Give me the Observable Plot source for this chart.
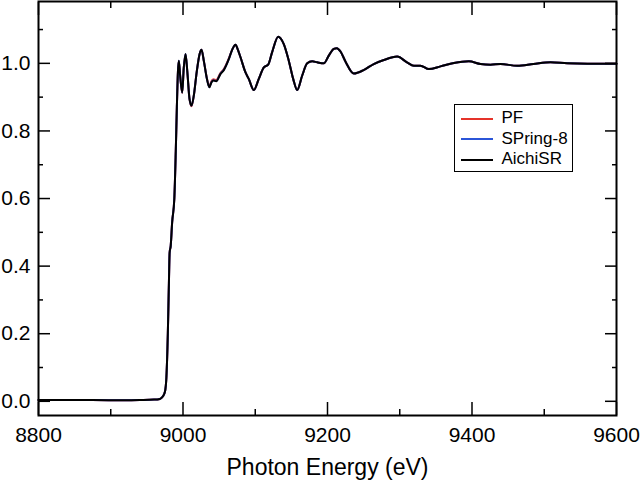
<!DOCTYPE html>
<html><head><meta charset="utf-8">
<script src="https://cdn.jsdelivr.net/npm/d3@7"></script>
<script src="https://cdn.jsdelivr.net/npm/@observablehq/plot@0.6"></script>
<style>
body{margin:0;background:#fff;font-family:"Liberation Sans",Arial,sans-serif;}
#wrap{position:relative;width:640px;height:494px;}
#legend{position:absolute;left:454px;top:104px;width:119px;height:68px;border:1.5px solid #000;background:#fff;box-sizing:border-box;}
#legend .sw{position:absolute;left:6px;width:32px;height:0;border-top:2px solid #000;}
#legend .lb{position:absolute;left:46.5px;font-size:17px;line-height:20px;color:#000;white-space:nowrap;}
</style>
</head><body>
<div id="wrap"></div>
<script>
const energy = [8800, 8850, 8900, 8940, 8960, 8968, 8972, 8975, 8977, 8979, 8980.5, 8981.5, 8983, 8985, 8988, 8990, 8991.5, 8993, 8994.2, 8996, 8998.9, 9001, 9003.5, 9006, 9009, 9011.8, 9015, 9019, 9023, 9025.6, 9029, 9033, 9036.5, 9039, 9042, 9046, 9052, 9056.5, 9063.5, 9068, 9072.7, 9076, 9079.6, 9086.5, 9091, 9098, 9104.9, 9111.9, 9117.9, 9123.4, 9131.7, 9139.5, 9146.4, 9152.5, 9158, 9165, 9171.9, 9178.8, 9185.7, 9194.9, 9201.8, 9208.7, 9213, 9218, 9225, 9236.4, 9250, 9264, 9278, 9296.5, 9310, 9319.5, 9328.7, 9340.3, 9356.4, 9375, 9395.6, 9411.8, 9425.6, 9439.4, 9462.6, 9485, 9508.7, 9531.8, 9560, 9600];

const pf = [0.004, 0.004, 0.003, 0.004, 0.005, 0.007, 0.014, 0.028, 0.07, 0.2, 0.35, 0.44, 0.46, 0.53, 0.6, 0.74, 0.87, 0.975, 1.006, 0.965, 0.912, 0.985, 1.026, 0.975, 0.895, 0.873, 0.905, 0.975, 1.028, 1.04, 1.005, 0.957, 0.931, 0.946, 0.953, 0.951, 0.972, 0.983, 1.015, 1.04, 1.055, 1.04, 1.018, 0.973, 0.954, 0.921, 0.954, 0.988, 0.996, 1.033, 1.079, 1.057, 1.008, 0.954, 0.921, 0.964, 1.0, 1.006, 1.003, 1.0, 1.023, 1.043, 1.045, 1.035, 1.005, 0.97, 0.98, 0.998, 1.01, 1.02, 1.003, 0.993, 0.993, 0.983, 0.991, 1.001, 1.006, 0.998, 0.996, 0.998, 0.993, 0.998, 1.003, 1.0, 0.999, 0.999];

const spring8 = [0.004, 0.004, 0.003, 0.004, 0.005, 0.007, 0.014, 0.028, 0.07, 0.2, 0.35, 0.44, 0.46, 0.53, 0.6, 0.74, 0.87, 0.975, 1.008, 0.965, 0.914, 0.985, 1.028, 0.975, 0.895, 0.875, 0.905, 0.975, 1.028, 1.04, 1.005, 0.955, 0.929, 0.943, 0.95, 0.948, 0.97, 0.981, 1.013, 1.04, 1.055, 1.04, 1.018, 0.973, 0.954, 0.921, 0.954, 0.988, 0.996, 1.033, 1.079, 1.057, 1.008, 0.954, 0.921, 0.964, 1.0, 1.006, 1.003, 1.0, 1.023, 1.043, 1.045, 1.035, 1.005, 0.97, 0.98, 0.998, 1.01, 1.02, 1.003, 0.993, 0.993, 0.983, 0.991, 1.001, 1.006, 0.998, 0.996, 0.998, 0.993, 0.998, 1.003, 1.0, 0.999, 0.999];

const aichi = [0.004, 0.004, 0.003, 0.004, 0.005, 0.007, 0.014, 0.028, 0.07, 0.2, 0.35, 0.44, 0.46, 0.53, 0.6, 0.74, 0.87, 0.975, 1.008, 0.965, 0.914, 0.985, 1.028, 0.975, 0.895, 0.875, 0.905, 0.975, 1.028, 1.04, 1.005, 0.955, 0.929, 0.942, 0.949, 0.947, 0.969, 0.98, 1.013, 1.04, 1.055, 1.04, 1.018, 0.973, 0.954, 0.921, 0.954, 0.988, 0.996, 1.033, 1.079, 1.057, 1.008, 0.954, 0.921, 0.964, 1.0, 1.006, 1.003, 1.0, 1.023, 1.043, 1.045, 1.035, 1.005, 0.97, 0.98, 0.998, 1.01, 1.02, 1.003, 0.993, 0.993, 0.983, 0.991, 1.001, 1.006, 0.998, 0.996, 0.998, 0.993, 0.998, 1.003, 1.0, 0.999, 0.999];

const seriesNames = ["PF", "SPring-8", "AichiSR"];
const seriesColors = ["#e5332a", "#2b55d8", "#000000"];
const xMajor = [8800, 9000, 9200, 9400, 9600];
const xMinor = [8900, 9100, 9300, 9500];
const yMajor = [0, 0.2, 0.4, 0.6, 0.8, 1.0];
const yMinor = [0.1, 0.3, 0.5, 0.7, 0.9, 1.1];
const xTitle = "Photon Energy (eV)";

const rows = [];
[pf, spring8, aichi].forEach((vals, i) =>
  energy.forEach((e, j) => rows.push({series: seriesNames[i], energy: e, value: vals[j]})));

const chart = Plot.plot({
  width: 640, height: 494,
  marginLeft: 38, marginRight: 24, marginTop: 1, marginBottom: 79,
  style: {fontFamily: "'Liberation Sans', Arial, sans-serif", fontSize: "21px", background: "#fff", color: "#000"},
  x: {domain: [8800, 9600]},
  y: {domain: [-0.042, 1.183]},
  color: {domain: seriesNames, range: seriesColors},
  marks: [
    Plot.lineY(rows, {x: "energy", y: "value", stroke: "series", z: "series", strokeWidth: 2, curve: "monotone-x"}),
    Plot.axisX(xMajor, {anchor: "bottom", tickSize: 0, tickPadding: 12, tickFormat: d => String(d), label: null}),
    Plot.axisX(xMajor, {anchor: "bottom", tickSize: -13, fill: null, label: null, strokeWidth: 1.5}),
    Plot.axisX(xMinor, {anchor: "bottom", tickSize: -6, fill: null, label: null, strokeWidth: 1.5}),
    Plot.axisX(xMajor, {anchor: "top", tickSize: -13, fill: null, label: null, strokeWidth: 1.5}),
    Plot.axisX(xMinor, {anchor: "top", tickSize: -6, fill: null, label: null, strokeWidth: 1.5}),
    Plot.axisY(yMajor, {anchor: "left", tickSize: 0, tickPadding: 8, tickFormat: d3.format(".1f"), label: null}),
    Plot.axisY(yMajor, {anchor: "left", tickSize: -12, fill: null, label: null, strokeWidth: 1.5}),
    Plot.axisY(yMinor, {anchor: "left", tickSize: -5, fill: null, label: null, strokeWidth: 1.5}),
    Plot.axisY(yMajor, {anchor: "right", tickSize: -12, fill: null, label: null, strokeWidth: 1.5}),
    Plot.axisY(yMinor, {anchor: "right", tickSize: -5, fill: null, label: null, strokeWidth: 1.5}),
    Plot.frame({stroke: "#000", strokeWidth: 2}),
    Plot.text([xTitle], {frameAnchor: "bottom", dy: 52, text: d => d, fontSize: 23, lineAnchor: "middle"})
  ]
});
const wrap = document.getElementById("wrap");
wrap.appendChild(chart);

const legend = document.createElement("div");
legend.id = "legend";
seriesNames.forEach((name, i) => {
  const sw = document.createElement("div");
  sw.className = "sw";
  sw.style.top = (12.5 + i * 20.5) + "px";
  sw.style.borderTopColor = seriesColors[i];
  legend.appendChild(sw);
  const lb = document.createElement("div");
  lb.className = "lb";
  lb.style.top = (3 + i * 20.5) + "px";
  lb.textContent = name;
  legend.appendChild(lb);
});
wrap.appendChild(legend);
</script>
</body></html>
